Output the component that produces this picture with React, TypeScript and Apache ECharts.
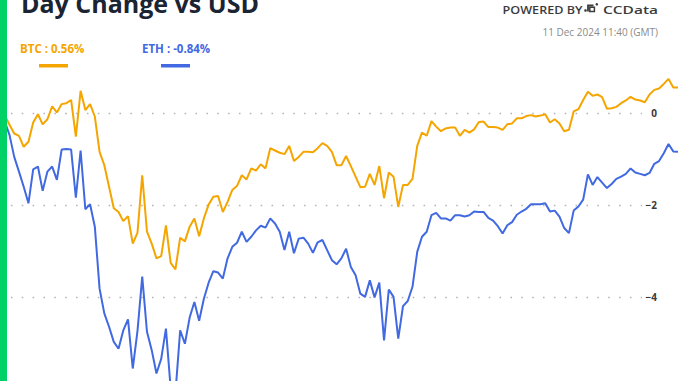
import React, { useEffect, useRef } from "react";
import * as echarts from "echarts";

// BTC day change (%) every 10 minutes
const btcValues: number[] = [
  0.04, -0.04, -0.25, -0.44, -0.49, -0.73, -0.62, -0.2, -0.02, -0.24,
  -0.13, 0.15, 0.02, 0.2, 0.22, 0.29, -0.51, 0.49, 0.07, 0.2,
  -0.07, -0.84, -1.13, -1.6, -2.07, -2.15, -2.35, -2.24, -2.84, -2.6,
  -1.35, -2.58, -2.84, -3.16, -3.11, -2.44, -3.26, -3.4, -2.71, -2.79,
  -2.47, -2.29, -2.68, -2.29, -1.99, -1.82, -1.8, -2.15, -1.93, -1.67,
  -1.58, -1.35, -1.44, -1.2, -1.25, -1.11, -1.2, -0.76, -0.81, -0.86,
  -0.89, -0.71, -1.04, -0.95, -0.84, -0.84, -0.85, -0.76, -0.65, -0.71,
  -0.84, -1.13, -1.13, -0.93, -1.15, -1.38, -1.61, -1.6, -1.32, -1.56,
  -1.15, -1.85, -1.29, -1.38, -2.04, -1.56, -1.56, -1.43, -0.71, -0.42,
  -0.49, -0.17, -0.29, -0.39, -0.33, -0.31, -0.31, -0.49, -0.36, -0.42,
  -0.35, -0.19, -0.18, -0.3, -0.3, -0.31, -0.36, -0.24, -0.22, -0.11,
  -0.11, -0.06, -0.04, -0.07, -0.05, -0.02, -0.2, -0.13, -0.22, -0.39,
  -0.36, 0.04, 0.09, 0.29, 0.47, 0.38, 0.41, 0.35, 0.1, 0.11,
  0.14, 0.22, 0.28, 0.36, 0.3, 0.28, 0.24, 0.41, 0.51, 0.54,
  0.64, 0.75, 0.56, 0.56,
];

// ETH day change (%) every 10 minutes
const ethValues: number[] = [
  -0.04, -0.18, -0.47, -0.95, -1.27, -1.6, -1.96, -1.22, -1.16, -1.69,
  -1.27, -1.16, -1.45, -0.79, -0.78, -0.79, -1.84, -0.81, -2.09, -1.98,
  -2.47, -3.82, -4.36, -4.65, -4.98, -5.13, -4.73, -4.49, -5.56, -4.74,
  -3.56, -4.76, -5.16, -5.67, -5.35, -4.69, -6.0, -6.1, -4.73, -5.02,
  -4.45, -4.11, -4.52, -4.04, -3.69, -3.44, -3.47, -3.6, -3.16, -2.91,
  -2.82, -2.58, -2.8, -2.69, -2.55, -2.45, -2.49, -2.29, -2.4, -2.58,
  -2.98, -2.58, -3.05, -2.73, -2.71, -2.84, -3.04, -2.81, -2.76, -2.98,
  -3.2, -3.29, -3.16, -2.95, -3.35, -3.53, -3.93, -4.0, -3.64, -4.01,
  -3.69, -4.95, -3.84, -4.0, -4.91, -4.2, -4.09, -3.78, -3.02, -2.69,
  -2.58, -2.22, -2.17, -2.29, -2.29, -2.34, -2.22, -2.22, -2.25, -2.22,
  -2.14, -2.15, -2.15, -2.28, -2.34, -2.46, -2.62, -2.44, -2.37, -2.21,
  -2.14, -2.08, -1.98, -1.98, -1.98, -1.96, -2.14, -2.12, -2.25, -2.5,
  -2.61, -2.12, -2.03, -1.88, -1.33, -1.56, -1.39, -1.51, -1.63, -1.54,
  -1.43, -1.38, -1.32, -1.2, -1.29, -1.32, -1.35, -1.3, -1.1, -1.04,
  -0.87, -0.67, -0.83, -0.84,
];

const yTicks: number[] = [0, -2, -4, -6];

// time categories: 10 Dec 11:50 .. 11 Dec 11:40 (GMT), 10-minute steps
const startMinutes = 11 * 60 + 50;
const timeLabels: string[] = btcValues.map((_, i) => {
  const m = (startMinutes + i * 10) % (24 * 60);
  const hh = String(Math.floor(m / 60)).padStart(2, "0");
  const mm = String(m % 60).padStart(2, "0");
  return `${hh}:${mm}`;
});

const titleText = "Day Change vs USD";
const btcLabel = "BTC : 0.56%";
const ethLabel = "ETH : -0.84%";
const poweredText = "POWERED BY";
const brandText = "CCData";
const dateText = "11 Dec 2024 11:40 (GMT)";

const ORANGE = "#F5A500";
const BLUE = "#4169E1";
const FONT = "'Open Sans', 'Noto Sans', sans-serif";

const ZERO_Y = 113.3;
const UNIT = 45.9;

export default function App() {
  const ref = useRef<HTMLDivElement>(null);
  useEffect(() => {
    if (!ref.current) return;
    const chart = echarts.init(ref.current, null, { renderer: "svg" });
    chart.setOption({
      animation: false,
      backgroundColor: "#ffffff",
      textStyle: { fontFamily: FONT },
      grid: [
        { left: 0, top: ZERO_Y, width: 642, height: 6 * UNIT },
        { left: 0, top: ZERO_Y - 2 * UNIT, width: 678, height: 9 * UNIT },
      ],
      xAxis: [
        { type: "category", gridIndex: 0, data: timeLabels, show: false, boundaryGap: false },
        { type: "category", gridIndex: 1, data: timeLabels, show: false, boundaryGap: false },
      ],
      yAxis: [
        {
          type: "value",
          gridIndex: 0,
          position: "right",
          min: yTicks[yTicks.length - 1],
          max: yTicks[0],
          interval: 2,
          axisLine: { show: false },
          axisTick: { show: false },
          splitLine: {
            show: true,
            lineStyle: { color: "#b5b5b5", width: 1.3, type: [1.6, 9.26] },
          },
          axisLabel: {
            show: true,
            showMinLabel: false,
            margin: 15,
            align: "right",
            color: "#3a3a3a",
            fontWeight: "bold",
            fontSize: 10,
            fontFamily: FONT,
            formatter: (v: number) => String(v).replace("-", "\u2212"),
          },
        },
        {
          type: "value",
          gridIndex: 1,
          min: -7,
          max: 2,
          show: false,
          splitLine: { show: false },
        },
      ],
      series: [
        {
          name: "BTC",
          type: "line",
          xAxisIndex: 1,
          yAxisIndex: 1,
          data: btcValues,
          showSymbol: false,
          symbol: "none",
          lineStyle: { color: ORANGE, width: 2 },
          itemStyle: { color: ORANGE },
          z: 3,
        },
        {
          name: "ETH",
          type: "line",
          xAxisIndex: 1,
          yAxisIndex: 1,
          data: ethValues,
          showSymbol: false,
          symbol: "none",
          lineStyle: { color: BLUE, width: 2 },
          itemStyle: { color: BLUE },
          z: 3,
        },
      ],
      graphic: [
        {
          type: "rect",
          shape: { x: 0, y: 0, width: 7, height: 450 },
          style: { fill: "#00D166" },
          z: 100,
        },
        {
          type: "text",
          x: 21,
          y: 3,
          style: {
            text: titleText,
            font: `bold 25px ${FONT}`,
            fill: "#1B2433",
            textVerticalAlign: "middle",
          },
          z: 50,
        },
        {
          type: "text",
          x: 20,
          y: 48,
          style: {
            text: btcLabel,
            font: `bold 11.5px ${FONT}`,
            fill: ORANGE,
            textVerticalAlign: "middle",
          },
          z: 50,
        },
        {
          type: "rect",
          shape: { x: 39, y: 64, width: 29, height: 3.5 },
          style: { fill: ORANGE },
          z: 50,
        },
        {
          type: "text",
          x: 142,
          y: 48,
          style: {
            text: ethLabel,
            font: `bold 11.5px ${FONT}`,
            fill: BLUE,
            textVerticalAlign: "middle",
          },
          z: 50,
        },
        {
          type: "rect",
          shape: { x: 161, y: 64, width: 29, height: 3.5 },
          style: { fill: BLUE },
          z: 50,
        },
        {
          type: "text",
          x: 582.5,
          y: 8,
          scaleY: 0.86,
          originX: 582.5,
          originY: 8,
          style: {
            text: poweredText,
            font: `600 12.6px ${FONT}`,
            fill: "#3c3c3c",
            textAlign: "right",
            textVerticalAlign: "middle",
          },
          z: 50,
        },
        // small logo
        {
          type: "group",
          z: 50,
          children: [
            { type: "circle", shape: { cx: 585.5, cy: 10.5, r: 1.3 }, style: { fill: "#3c3c3c" } },
            {
              type: "polyline",
              shape: { points: [[588, 11.5], [588, 5.5], [593.5, 5.5]] },
              style: { stroke: "#3c3c3c", lineWidth: 1.8, fill: "none" },
            },
            {
              type: "rect",
              shape: { x: 589.8, y: 7.3, width: 4.6, height: 4.2 },
              style: { stroke: "#3c3c3c", lineWidth: 1.5, fill: "none" },
            },
            { type: "circle", shape: { cx: 596.8, cy: 4.3, r: 1.3 }, style: { fill: "#3c3c3c" } },
          ],
        },
        {
          type: "text",
          x: 658,
          y: 8,
          scaleY: 0.72,
          originX: 658,
          originY: 8,
          style: {
            text: brandText,
            font: `600 15.5px ${FONT}`,
            fill: "#3c3c3c",
            textAlign: "right",
            textVerticalAlign: "middle",
          },
          z: 50,
        },
        {
          type: "text",
          x: 658,
          y: 31.5,
          style: {
            text: dateText,
            font: `10px ${FONT}`,
            fill: "#8a8a8a",
            textAlign: "right",
            textVerticalAlign: "middle",
          },
          z: 50,
        },
      ],
    });
    return () => chart.dispose();
  }, []);

  return (
    <div
      style={{
        position: "absolute",
        left: 0,
        top: 0,
        width: 678,
        height: 381,
        overflow: "hidden",
        background: "#ffffff",
      }}
    >
      <div ref={ref} style={{ width: 678, height: 450 }} />
    </div>
  );
}
